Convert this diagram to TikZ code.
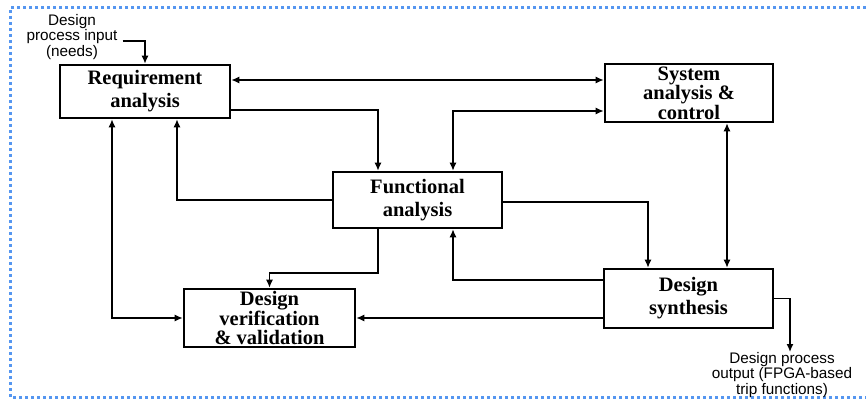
\documentclass[tikz,border=0pt]{standalone}
\usepackage{fontspec}
\setmainfont{Liberation Serif}
\newfontfamily\labelfont{Liberation Sans}
\usepackage{tikz}
\usetikzlibrary{arrows.meta}
\definecolor{dotblue}{RGB}{85,150,240}

\begin{document}
\begin{tikzpicture}[x=1pt, y=-1pt,
    box/.style   = {draw, line width=2.6pt, inner sep=0pt, align=center,
                    font=\bfseries\fontsize{20.5}{23}\selectfont},
    boxtight/.style = {box, font=\bfseries\fontsize{20.5}{18.5}\selectfont},
    lbl/.style   = {inner sep=0pt, align=center, font=\labelfont\fontsize{15.3}{15.5}\selectfont},
    arr/.style   = {-{Latex[length=8pt,width=7pt]}, line width=1.3pt},
    darr/.style  = {{Latex[length=8pt,width=7pt]}-{Latex[length=8pt,width=7pt]}, line width=1.3pt},
    bordr/.style = {dotblue, line width=3pt, dash pattern=on 3pt off 3pt}]
        \useasboundingbox (0,0) rectangle (866,403);
        \draw [bordr] (866,8) -- (10,8) -- (10,397) -- (866,397);       % frame

        \node [box, minimum width=170pt, minimum height=53pt] (ra)  at (145,91.5)  {Requirement\\analysis};
        \node [boxtight, minimum width=168pt, minimum height=58pt] (sac) at (689,93) {System\\analysis \&\\control};
        \node [box, minimum width=169pt, minimum height=56pt] (fa)  at (417.5,200) {Functional\\analysis};
        \node [boxtight, minimum width=171pt, minimum height=58pt] (dvv) at (269.5,318) {Design\\verification\\\& validation};
        \node [box, minimum width=169pt, minimum height=59pt] (ds)  at (688.5,298.5) {Design\\synthesis};

        \node [lbl] (in) at (72,37) {Design\\process input\\(needs)};
        \node [lbl, anchor=north] (out) at (782,352) {Design process\\output (FPGA-based\\trip functions)};

        \draw [arr]  ([xshift=5pt,yshift=-4pt]in.east) -| (ra.north);     % input
        \draw [darr] (ra.east |- 0,80) -- (sac.west |- 0,80);             % RA - SAC
        \draw [arr]  (ra.east |- 0,110) -| (fa.north -| 378,0);           % RA -> FA
        \draw [darr] (fa.north -| 453,0) |- (sac.west |- 0,111);          % FA - SAC
        \draw [arr]  (fa.west) -| (ra.south -| 177,0);                    % FA -> RA
        \draw [darr] (ra.south -| 112,0) |- (dvv.west);                   % RA - DVV
        \draw [arr]  (fa.south -| 378,0) |- (dvv.north |- 0,273) -- (dvv.north); % FA -> DVV
        \draw [arr]  (fa.east |- 0,202) -| (ds.north -| 648,0);           % FA -> DS
        \draw [darr] (sac.south -| 727,0) -- (ds.north -| 727,0);         % SAC - DS
        \draw [arr]  (ds.west |- 0,280) -| (fa.south -| 453,0);           % DS -> FA
        \draw [arr]  (ds.west |- 0,318) -- (dvv.east);                    % DS -> DVV
        \draw [arr]  (ds.east) -| (out.north -| 790,0);                   % output
\end{tikzpicture}
\end{document}
